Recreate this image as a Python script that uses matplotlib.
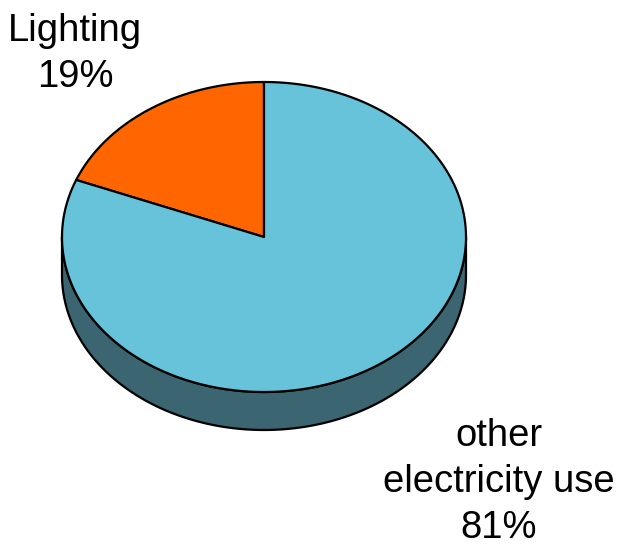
import numpy as np
import matplotlib
matplotlib.use("Agg")
import matplotlib.pyplot as plt
from matplotlib.patches import Polygon

categories = ["Lighting", "other\nelectricity use"]
values = [19, 81]
labels = ["Lighting\n19%", "other\nelectricity use\n81%"]
top_colors = ["#FF6600", "#66C3DA"]
side_colors = ["#8C3800", "#3A6571"]

W, H = 617, 548
fig = plt.figure(figsize=(W / 100, H / 100), dpi=100)
ax = fig.add_axes([0, 0, 1, 1])
ax.set_xlim(0, W)
ax.set_ylim(H, 0)
ax.axis("off")

cx, cy, rx, ry, depth = 264, 237, 202, 155, 38

def pt(t, dy=0):
    return cx + rx * np.cos(t), cy - ry * np.sin(t) + dy

# slice angles (counterclockwise from top)
fracs = np.array(values) / sum(values)
starts = np.deg2rad(90 + 360 * np.concatenate([[0], np.cumsum(fracs)[:-1]]))
ends = np.deg2rad(90 + 360 * np.cumsum(fracs))

# side wall: front half (angles pi..2pi), coloured by slice covering that angle
for s, e, sc in zip(starts, ends, side_colors):
    for off in (0, 2 * np.pi, -2 * np.pi):
        a0 = max(s + off, np.pi)
        a1 = min(e + off, 2 * np.pi)
        if a1 > a0:
            t = np.linspace(a0, a1, 200)
            xs, ys = pt(t)
            xb, yb = pt(t[::-1], depth)
            poly = np.column_stack([np.concatenate([xs, xb]), np.concatenate([ys, yb])])
            ax.add_patch(Polygon(poly, closed=True, facecolor=sc, edgecolor="black", lw=1.6, joinstyle="round"))

# top faces
for s, e, c in zip(starts, ends, top_colors):
    t = np.linspace(s, e, 400)
    xs, ys = pt(t)
    poly = np.column_stack([np.concatenate([[cx], xs]), np.concatenate([[cy], ys])])
    ax.add_patch(Polygon(poly, closed=True, facecolor=c, edgecolor="black", lw=1.6, joinstyle="round"))

font = "Liberation Sans"
ax.text(75, 54, labels[0], ha="center", va="center", fontsize=27.5, family=font, linespacing=1.34)
ax.text(499, 482, labels[1], ha="center", va="center", fontsize=27.5, family=font, linespacing=1.34)

fig.savefig("out.png", dpi=100)
